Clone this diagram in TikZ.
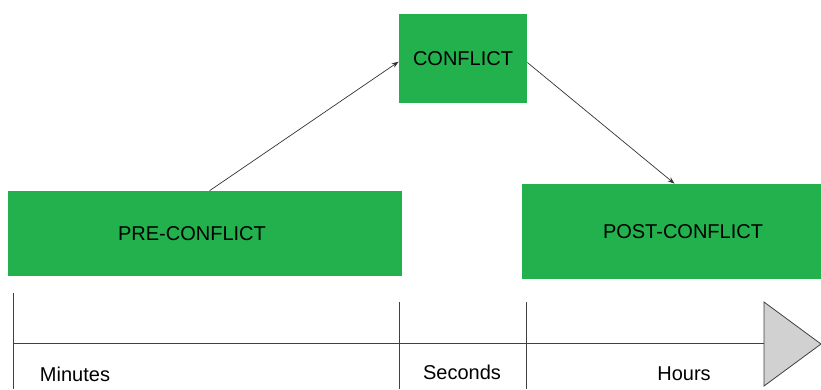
\documentclass[tikz,border=0pt]{standalone}
\usepackage{fontspec}
\setmainfont{Liberation Sans}
\usetikzlibrary{arrows.meta}
\definecolor{phasegreen}{RGB}{34,177,76}
\tikzset{
  phase/.style={fill=phasegreen, inner sep=0pt, font=\fontsize{20}{24}\selectfont},
  span/.style={font=\fontsize{20}{24}\selectfont, inner sep=0pt},
  axis/.style={draw=black!75, line width=0.8pt}
}

\begin{document}
\begin{tikzpicture}[x=1pt,y=-1pt,>={Stealth[length=7pt,width=5pt]},line width=0.7pt]
    \useasboundingbox (0,0) rectangle (821,389);

    \node[phase, minimum width=128pt, minimum height=89pt] (conf) at (463,58.5) {CONFLICT};
    \node[phase, minimum width=394pt, minimum height=85pt] (pre) at (205,233.5) {\hspace*{-26pt}PRE-CONFLICT};
    \node[phase, minimum width=299pt, minimum height=95pt] (post) at (671.5,231.5) {\hspace*{23pt}POST-CONFLICT};

    \draw[->, black!80] ([xshift=202pt]pre.north west) -- ([yshift=-48pt]conf.north west);
    \draw[->, black!80] ([yshift=-4pt]conf.east) -- ([xshift=3pt]post.north);

    % time axis
    \draw[axis] (13,293) -- (13,389);
    \draw[axis] (399,302) -- (399,389);
    \draw[axis] (526,302) -- (526,389);
    \draw[axis] (13,343) -- (764,343);
    \draw[axis, fill=black!18] (764,302) -- (821,344) -- (764,386) -- cycle;

    \node[span] (minutes) at (75,374) {Minutes};
    \node[span] (seconds) at (462,372) {Seconds};
    \node[span] (hours) at (684,374) {Hours};
\end{tikzpicture}
\end{document}
